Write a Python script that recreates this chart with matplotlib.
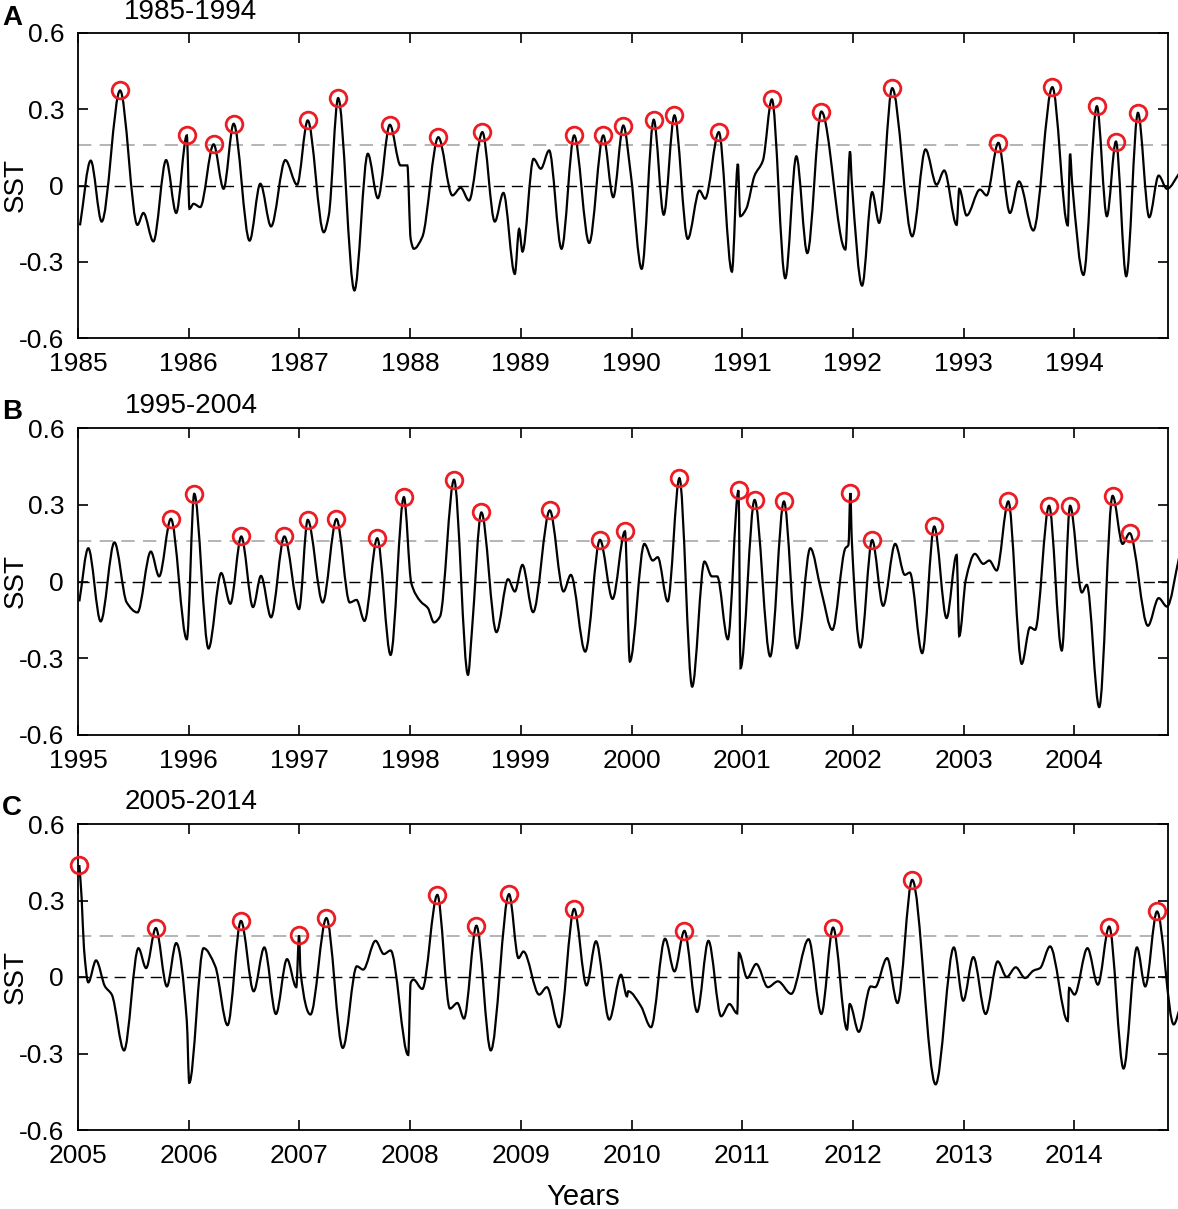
import numpy as np
import matplotlib
matplotlib.use("Agg")
import matplotlib.pyplot as plt
from matplotlib.path import Path
from matplotlib.patches import PathPatch

plt.rcParams['font.family'] = ['Liberation Sans', 'DejaVu Sans']

# SST anomaly turning points (decimal year, value)
years_A = [1985.018, 1985.115, 1985.214, 1985.38, 1985.537, 1985.591, 1985.681, 1985.796, 1985.887, 1985.983,
           1986.007, 1986.044, 1986.104, 1986.225, 1986.315, 1986.406, 1986.55, 1986.647, 1986.744, 1986.873,
           1986.979, 1987.075, 1987.22, 1987.265, 1987.35, 1987.497, 1987.618, 1987.709, 1987.817, 1987.914,
           1987.975, 1988.005, 1988.034, 1988.11, 1988.255, 1988.382, 1988.457, 1988.532, 1988.653, 1988.765,
           1988.843, 1988.946, 1988.985, 1989.015, 1989.115, 1989.181, 1989.256, 1989.368, 1989.482, 1989.618,
           1989.745, 1989.835, 1989.926, 1989.995, 1990.092, 1990.201, 1990.291, 1990.388, 1990.508, 1990.614,
           1990.665, 1990.789, 1990.907, 1990.961, 1990.982, 1991.036, 1991.112, 1991.187, 1991.268, 1991.389,
           1991.489, 1991.588, 1991.715, 1991.932, 1991.974, 1991.99, 1992.083, 1992.174, 1992.237, 1992.355,
           1992.536, 1992.656, 1992.756, 1992.825, 1992.937, 1992.961, 1993.027, 1993.148, 1993.208, 1993.314,
           1993.419, 1993.5, 1993.63, 1993.802, 1993.941, 1993.962, 1993.98, 1994.083, 1994.204, 1994.294,
           1994.376, 1994.469, 1994.575, 1994.677, 1994.762, 1994.837, 1994.955]
sst_A = [-0.157, 0.098, -0.142, 0.374, -0.155, -0.108, -0.22, 0.10, -0.108, 0.197,
         -0.092, -0.072, -0.085, 0.162, -0.013, 0.243, -0.217, 0.007, -0.161, 0.10,
         0.003, 0.256, -0.184, -0.118, 0.344, -0.413, 0.125, -0.05, 0.239, 0.079,
         0.079, -0.21, -0.249, -0.203, 0.19, -0.039, -0.009, -0.059, 0.21, -0.142,
         -0.029, -0.348, -0.171, -0.26, 0.105, 0.066, 0.138, -0.249, 0.197, -0.226,
         0.197, -0.046, 0.236, 0.039, -0.328, 0.259, -0.115, 0.276, -0.21, -0.02,
         -0.052, 0.21, -0.339, 0.085, -0.121, -0.092, 0.039, 0.098, 0.339, -0.365,
         0.115, -0.266, 0.291, -0.252, 0.134, 0.013, -0.394, -0.026, -0.147, 0.383,
         -0.2, 0.142, 0.003, 0.059, -0.155, -0.013, -0.118, -0.016, -0.039, 0.168,
         -0.108, 0.016, -0.177, 0.387, -0.157, 0.125, 0.013, -0.352, 0.312, -0.121,
         0.173, -0.357, 0.286, -0.125, 0.039, -0.013, 0.052]

years_B = [1995.012, 1995.093, 1995.205, 1995.329, 1995.44, 1995.537, 1995.658, 1995.733, 1995.839, 1995.983,
           1996.05, 1996.179, 1996.294, 1996.376, 1996.475, 1996.581, 1996.653, 1996.744, 1996.864, 1996.997,
           1997.075, 1997.211, 1997.335, 1997.455, 1997.516, 1997.588, 1997.703, 1997.824, 1997.944, 1998.011,
           1998.095, 1998.161, 1998.216, 1998.27, 1998.397, 1998.523, 1998.557, 1998.644, 1998.78, 1998.885,
           1998.946, 1999.015, 1999.111, 1999.262, 1999.386, 1999.452, 1999.582, 1999.715, 1999.829, 1999.941,
           1999.985, 2000.116, 2000.192, 2000.237, 2000.327, 2000.433, 2000.548, 2000.659, 2000.726, 2000.774,
           2000.87, 2000.967, 2000.985, 2001.112, 2001.253, 2001.377, 2001.495, 2001.615, 2001.715, 2001.814,
           2001.932, 2001.96, 2001.977, 2001.99, 2002.068, 2002.174, 2002.273, 2002.382, 2002.469, 2002.514,
           2002.626, 2002.735, 2002.846, 2002.937, 2002.961, 2003.02, 2003.102, 2003.178, 2003.232, 2003.299,
           2003.404, 2003.525, 2003.6, 2003.646, 2003.772, 2003.887, 2003.962, 2004.068, 2004.113, 2004.225,
           2004.346, 2004.436, 2004.5, 2004.665, 2004.762, 2004.837, 2004.949]
sst_B = [-0.078, 0.130, -0.156, 0.153, -0.082, -0.121, 0.117, 0.02, 0.245, -0.226,
         0.343, -0.262, 0.033, -0.087, 0.176, -0.1, 0.022, -0.14, 0.176, -0.108,
         0.241, -0.082, 0.244, -0.082, -0.072, -0.154, 0.169, -0.287, 0.33, -0.007,
         -0.078, -0.104, -0.16, -0.137, 0.398, -0.365, -0.202, 0.27, -0.198, 0.009,
         -0.039, 0.065, -0.12, 0.278, -0.039, 0.026, -0.274, 0.163, -0.068, 0.196,
         -0.313, 0.147, 0.082, 0.095, -0.078, 0.404, -0.411, 0.078, 0.02, 0.02,
         -0.226, 0.356, -0.339, 0.319, -0.293, 0.313, -0.261, 0.13, -0.039, -0.189,
         0.13, 0.143, 0.346, 0.163, -0.258, 0.162, -0.095, 0.147, 0.026, 0.035,
         -0.28, 0.215, -0.143, 0.104, -0.213, 0.007, 0.108, 0.069, 0.082, 0.043,
         0.313, -0.322, -0.179, -0.189, 0.296, -0.27, 0.296, -0.043, -0.013, -0.491,
         0.335, 0.147, 0.189, -0.173, -0.065, -0.098, 0.098]

years_C = [2005.012, 2005.033, 2005.054, 2005.093, 2005.163, 2005.244, 2005.305, 2005.416, 2005.546, 2005.615,
           2005.703, 2005.803, 2005.887, 2005.983, 2006.005, 2006.134, 2006.24, 2006.351, 2006.472, 2006.587,
           2006.683, 2006.788, 2006.888, 2006.972, 2006.997, 2007.01, 2007.1, 2007.244, 2007.392, 2007.519,
           2007.576, 2007.688, 2007.763, 2007.824, 2007.983, 2008.005, 2008.03, 2008.11, 2008.246, 2008.36,
           2008.427, 2008.487, 2008.599, 2008.729, 2008.894, 2008.979, 2009.024, 2009.166, 2009.235, 2009.347,
           2009.482, 2009.594, 2009.679, 2009.799, 2009.905, 2009.959, 2009.97, 2010.086, 2010.176, 2010.303,
           2010.388, 2010.478, 2010.593, 2010.695, 2010.81, 2010.885, 2010.955, 2010.97, 2011.045, 2011.127,
           2011.232, 2011.323, 2011.443, 2011.6, 2011.715, 2011.821, 2011.947, 2011.971, 2012.053, 2012.161,
           2012.2, 2012.309, 2012.403, 2012.536, 2012.747, 2012.912, 2012.997, 2013.088, 2013.199, 2013.308,
           2013.389, 2013.471, 2013.555, 2013.631, 2013.691, 2013.781, 2013.941, 2013.953, 2014.002, 2014.119,
           2014.213, 2014.315, 2014.445, 2014.566, 2014.641, 2014.747, 2014.898, 2014.955]
sst_C = [0.439, 0.309, 0.113, -0.021, 0.065, -0.037, -0.069, -0.288, 0.113, 0.035,
         0.192, -0.037, 0.133, -0.173, -0.415, 0.113, 0.042, -0.189, 0.22, -0.056,
         0.116, -0.145, 0.07, -0.04, 0.163, 0.022, -0.147, 0.231, -0.278, 0.042,
         0.029, 0.142, 0.09, 0.104, -0.306, -0.023, -0.01, -0.047, 0.322, -0.124,
         -0.102, -0.163, 0.201, -0.288, 0.325, 0.074, 0.1, -0.069, -0.04, -0.197,
         0.267, -0.033, 0.14, -0.167, 0.009, -0.076, -0.056, -0.115, -0.197, 0.15,
         0.022, 0.181, -0.137, 0.142, -0.154, -0.106, -0.143, 0.094, -0.004, 0.051,
         -0.04, -0.017, -0.066, 0.148, -0.145, 0.194, -0.206, -0.106, -0.215, -0.037,
         -0.04, 0.074, -0.102, 0.381, -0.421, 0.116, -0.093, 0.078, -0.145, 0.061,
         0.0, 0.038, -0.004, 0.025, 0.035, 0.12, -0.173, -0.043, -0.069, 0.113,
         -0.03, 0.198, -0.359, 0.116, -0.037, 0.257, -0.186, -0.121]

panel_letters = ["A", "B", "C"]
panel_titles = ["1985-1994", "1995-2004", "2005-2014"]
start_years = [1985, 1995, 2005]
threshold = 0.16
ytick_vals = [-0.6, -0.3, 0, 0.3, 0.6]
ytick_labels = ["-0.6", "-0.3", "0", "0.3", "0.6"]


def smooth_path(x, y):
    """monotone cubic (Fritsch-Carlson) through the points, as a bezier path"""
    x = np.asarray(x, float)
    y = np.asarray(y, float)
    h = np.diff(x)
    d = np.diff(y) / h
    m = np.zeros_like(y)
    for k in range(1, len(y) - 1):
        if d[k - 1] * d[k] > 0:
            w1 = 2 * h[k] + h[k - 1]
            w2 = h[k] + 2 * h[k - 1]
            m[k] = (w1 + w2) / (w1 / d[k - 1] + w2 / d[k])
    m[0] = d[0]
    m[-1] = d[-1]
    verts = [(x[0], y[0])]
    codes = [Path.MOVETO]
    for k in range(len(h)):
        verts.append((x[k] + h[k] / 3, y[k] + m[k] * h[k] / 3))
        verts.append((x[k + 1] - h[k] / 3, y[k + 1] - m[k + 1] * h[k] / 3))
        verts.append((x[k + 1], y[k + 1]))
        codes += [Path.CURVE4] * 3
    return Path(verts, codes)


def peak_points(x, y, thr):
    """local maxima at or above the threshold"""
    px, py = [], []
    for i in range(len(y)):
        left_ok = i == 0 or y[i] >= y[i - 1]
        right_ok = i == len(y) - 1 or y[i] >= y[i + 1]
        if y[i] >= thr and left_ok and right_ok:
            px.append(x[i])
            py.append(y[i])
    return px, py


fig = plt.figure(figsize=(11.78, 12.09), dpi=100)

W, H = 1178, 1209
ax_left = 78 / W
ax_w = (1168 - 78) / W
tops = [33, 428, 824]
bottoms = [338, 735, 1130]
title_y = [12, 406, 802]
letter_y = [18, 412, 808]

series = [(years_A, sst_A), (years_B, sst_B), (years_C, sst_C)]
px_per_year = 110.7

for i, (xs, ys) in enumerate(series):
    ax = fig.add_axes([ax_left, 1 - bottoms[i] / H, ax_w, (bottoms[i] - tops[i]) / H])
    x0 = start_years[i]
    x1 = x0 + (1168 - 78) / px_per_year

    ax.axhline(0, color="black", lw=1.0, dashes=(8, 5), zorder=1)
    ax.axhline(threshold, color="#a8a8a8", lw=1.2, dashes=(8, 5), zorder=1)

    ax.add_patch(PathPatch(smooth_path(xs, ys), fill=False, ec="black", lw=1.6,
                           clip_on=False, zorder=3))

    pk_x, pk_y = peak_points(xs, ys, threshold)
    ax.plot(pk_x, pk_y, "o", ms=12, mfc="none", mec="#ec1c24", mew=2.0,
            zorder=4, clip_on=False)

    ax.set_xlim(x0, x1)
    ax.set_ylim(-0.6, 0.6)
    ax.set_xticks(range(x0, x0 + 10))
    ax.set_xticklabels([str(y) for y in range(x0, x0 + 10)])
    ax.set_yticks(ytick_vals)
    ax.set_yticklabels(ytick_labels)
    ax.tick_params(direction="in", length=7, width=1.2, labelsize=19,
                   top=True, right=True)
    ax.tick_params(axis="y", pad=10)
    ax.tick_params(axis="x", pad=10)
    for sp in ax.spines.values():
        sp.set_linewidth(1.3)

    # y label placed in figure pixels so it stays inside the canvas
    mid = (tops[i] + bottoms[i]) / 2
    fig.text(16 / W, 1 - mid / H, "SST", fontsize=20, rotation=90,
             ha="center", va="center")

    fig.text(191 / W, 1 - title_y[i] / H, panel_titles[i], fontsize=20,
             ha="center", va="center")
    fig.text(12 / W, 1 - letter_y[i] / H, panel_letters[i], fontsize=20,
             fontweight="bold", ha="center", va="center")

fig.text(583 / W, 1 - 1197 / H, "Years", fontsize=21, ha="center", va="center")

fig.savefig("out.png", dpi=100)
